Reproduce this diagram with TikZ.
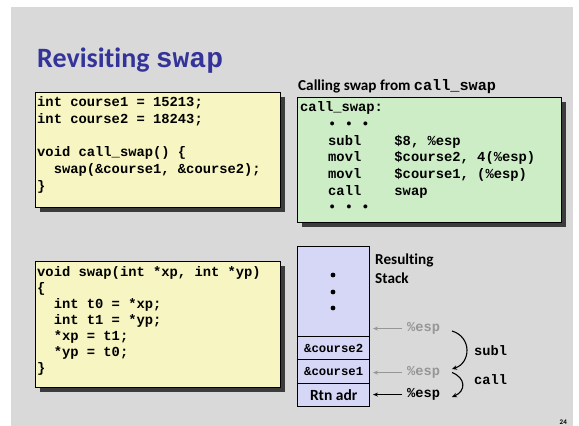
\documentclass[tikz,border=0pt]{standalone}
\usepackage{fontspec}
\usetikzlibrary{arrows.meta,shadows}
\newfontfamily\slidesans{Carlito}[Ligatures=NoCommon]
\newfontfamily\slidemono{Liberation Mono}
\definecolor{slidebg}{RGB}{217,217,217}
\definecolor{titleblue}{RGB}{51,51,153}
\definecolor{codeyellow}{RGB}{247,245,194}
\definecolor{codegreen}{RGB}{205,237,199}
\definecolor{stackfill}{RGB}{214,214,247}
\definecolor{shadowgray}{RGB}{60,60,60}
\definecolor{fadedgray}{RGB}{150,150,150}
\tikzset{
  codebox/.style={draw=black, line width=0.8pt, anchor=north west, inner sep=0,
    drop shadow={shadow xshift=5pt, shadow yshift=-5pt, fill=shadowgray, opacity=1}},
  codeline/.style={anchor=base west, inner sep=0,
    font=\slidemono\bfseries\fontsize{13.8}{16}\selectfont},
  caption/.style={anchor=base west, inner sep=0,
    font=\slidesans\bfseries\fontsize{15.2}{17}\selectfont},
  slot/.style={draw=black, line width=1.4pt, fill=stackfill, anchor=north west,
    minimum width=72pt, inner sep=0},
  slotcode/.style={font=\slidemono\bfseries\fontsize{12.3}{14}\selectfont},
  slotsans/.style={font=\slidesans\bfseries\fontsize{15.5}{17}\selectfont},
  esp/.style={anchor=base west, inner sep=0,
    font=\slidemono\bfseries\fontsize{13.7}{16}\selectfont},
  ptr/.style={line width=1pt, -{Stealth[length=5pt,width=4pt]}},
  jump/.style={line width=1.1pt, -{Stealth[length=5pt,width=4.5pt]}},
}
\begin{document}
\begin{tikzpicture}[x=1pt,y=-1pt]
\useasboundingbox (0,0) rectangle (579,426);
\fill[white] (0,0) rectangle (579,426);
\fill[slidebg] (11,7) rectangle (573,426);

% title
\node[anchor=base west, inner sep=0, text=titleblue,
      font=\slidesans\bfseries\fontsize{28}{30}\selectfont] (title) at (37,67)
  {Revisiting {\slidemono swap}};

% globals and caller
\node[codebox, fill=codeyellow, minimum width=245pt, minimum height=115pt] (callerbox) at (35,92) {};
\foreach \t [count=\i from 0] in {{int course1 = 15213;},{int course2 = 18243;},{},
    {void call\_swap() \{},{~~swap(\&course1, \&course2);},{\}}}
  \node[codeline] (caller\i) at (37,{106.7+\i*16.7}) {\t};

% assembly of call_swap
\node[caption] (asmcap) at (298,90) {Calling swap from {\slidemono call\_swap}};
\node[codebox, fill=codegreen, minimum width=264pt, minimum height=125pt] (asmbox) at (297,97) {};
\node[codeline] (asm0) at (300,111.7) {call\_swap:};
\foreach \t [count=\i] in {{• • •},{subl~~~~\$8, \%esp},{movl~~~~\$course2, 4(\%esp)},
    {movl~~~~\$course1, (\%esp)},{call~~~~swap},{• • •}}
  \node[codeline] (asm\i) at (328,{111.7+\i*16.7}) {\t};

% callee
\node[codebox, fill=codeyellow, minimum width=245pt, minimum height=126pt] (swapbox) at (35,261) {};
\foreach \t [count=\i from 0] in {{void swap(int *xp, int *yp)},{\{},{~~int t0 = *xp;},
    {~~int t1 = *yp;},{~~*xp = t1;},{~~*yp = t0;},{\}}}
  \node[codeline] (swap\i) at (37,{276+\i*16}) {\t};

% resulting stack
\node[slot, minimum height=90pt] (top) at (297,246) {};
\foreach \y in {275,292,308} \fill (333,\y) circle (2.4pt);
\node[slot, slotcode, minimum height=23pt] (arg2) at (297,336) {\&course2};
\node[slot, slotcode, minimum height=24pt] (arg1) at (297,359) {\&course1};
\node[slot, slotsans, minimum height=23pt] (ret) at (297,383) {Rtn adr};
\node[caption] (stackcap1) at (375,264) {Resulting};
\node[caption] (stackcap2) at (375,283) {Stack};

% stack pointer positions
\node[esp, text=fadedgray] (esp0) at (407,331.7) {\%esp};
\node[esp, text=fadedgray] (esp1) at (407,375.7) {\%esp};
\node[esp] (esp2) at (407,397.7) {\%esp};
\draw[ptr, fadedgray] ([xshift=-5pt]esp0.west) -- ([xshift=-34pt]esp0.west);
\draw[ptr, fadedgray] ([xshift=-5pt]esp1.west) -- ([xshift=-34pt]esp1.west);
\draw[ptr] ([xshift=-5pt]esp2.west) -- ([xshift=-34pt]esp2.west);

% instructions that move the stack pointer
\coordinate (j0) at (452,331);
\coordinate (j1) at (452,369);
\coordinate (j2) at (452,372.5);
\coordinate (j3) at (452,397);
\draw[jump] (j0) .. controls (472,337) and (471,363) .. (j1);
\draw[jump] (j2) .. controls (466,378) and (466,391) .. (j3);
\node[esp] (sublbl) at (474,355) {subl};
\node[esp] (calllbl) at (474,384) {call};

% page number
\node[anchor=base east, inner sep=0, font=\slidesans\bfseries\fontsize{7}{8}\selectfont] (pg) at (567,424) {24};
\end{tikzpicture}
\end{document}
